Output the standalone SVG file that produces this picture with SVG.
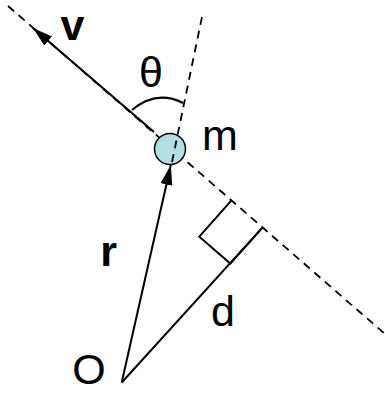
<svg xmlns="http://www.w3.org/2000/svg" width="385" height="394" viewBox="0 0 385 394">
<style>
.solid{stroke:#000;stroke-width:2;fill:none}
.dash{stroke:#000;stroke-width:1.8;fill:none;stroke-dasharray:8 6}
.lbl{font-family:"Liberation Sans",Arial,sans-serif;font-size:43px;fill:#000;text-anchor:middle}
.b{font-weight:bold}
</style>
<defs>
<marker id="ah" markerWidth="20" markerHeight="12" refX="20" refY="6" orient="auto" markerUnits="userSpaceOnUse">
<path d="M0,0 L20,6 L0,12 Z" fill="#000"/>
</marker>
</defs>
<g id="connectors">
<path class="dash" d="M8,6 L385,334"/>
<path class="solid" d="M121.7,382.5 L170.8,165" marker-end="url(#ah)"/>
<path class="solid" d="M154,132 L33,28" marker-end="url(#ah)"/>
<path class="solid" d="M121.7,382.5 L262.7,227.3"/>
<path class="solid" d="M231.7,200.2 L199.3,236.7 L230.3,263.5 L262.7,227.3"/>
<path class="solid" d="M132,110 Q156.5,89.5 183,103"/>
</g>
<g id="mass">
<circle cx="170" cy="149" r="15.5" fill="#b3dfe0" stroke="#000" stroke-width="1.5"/>
</g>
<g id="rline">
<path class="dash" d="M172,162 L203,12"/>
</g>
<g id="labels">
<text class="lbl b" x="72.5" y="40">v</text>
<text class="lbl" x="151" y="87">θ</text>
<text class="lbl" x="220" y="150">m</text>
<text class="lbl b" x="108.5" y="266">r</text>
<text class="lbl" x="223" y="326">d</text>
<text class="lbl" x="89" y="384">O</text>
</g>
</svg>
